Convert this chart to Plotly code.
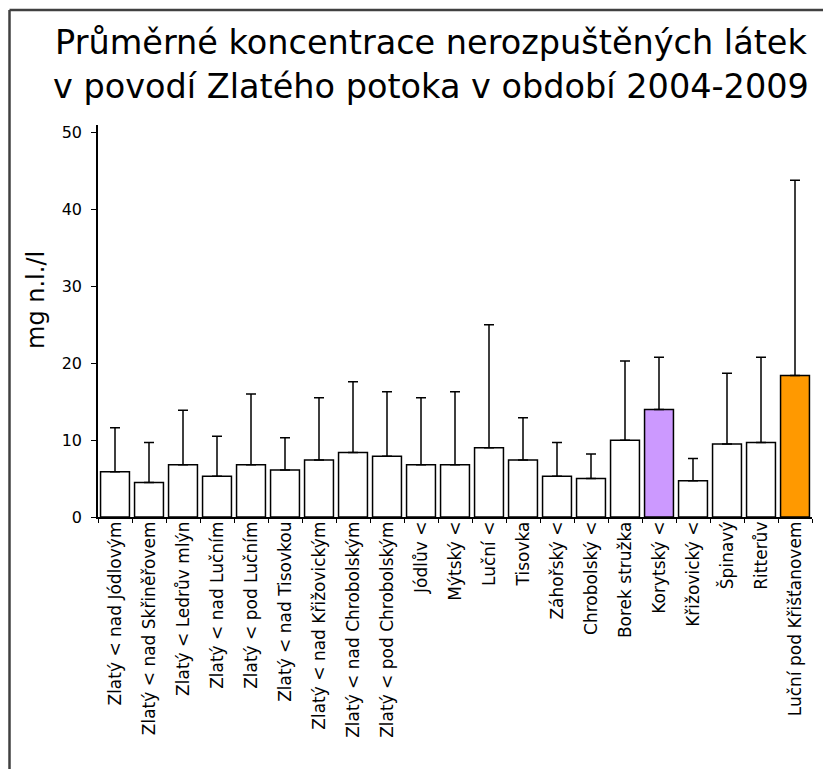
import plotly.graph_objects as go

categories = [
    "Zlatý < nad Jódlovým", "Zlatý < nad Skřiněřovem", "Zlatý < Ledrův mlýn",
    "Zlatý < nad Lučním", "Zlatý < pod Lučním", "Zlatý < nad Tisovkou",
    "Zlatý < nad Křižovickým", "Zlatý < nad Chrobolským", "Zlatý < pod Chrobolským",
    "Jódlův <", "Mýtský <", "Luční <", "Tisovka", "Záhořský <", "Chrobolský <",
    "Borek stružka", "Korytský <", "Křižovický <", "Špinavý", "Ritterův",
    "Luční pod Křišťanovem",
]
means = [5.9, 4.5, 6.8, 5.3, 6.8, 6.1, 7.4, 8.4, 7.9, 6.8, 6.8, 9.0, 7.4, 5.3, 5.0,
         10.0, 14.0, 4.7, 9.5, 9.7, 18.4]
upper = [11.6, 9.7, 13.9, 10.5, 16.0, 10.3, 15.5, 17.6, 16.3, 15.5, 16.3, 25.0, 12.9,
         9.7, 8.2, 20.3, 20.8, 7.6, 18.7, 20.8, 43.8]
bar_colors = ["white"] * 16 + ["#CC99FF", "white", "white", "white", "#FF9900"]
y_ticks = [0, 10, 20, 30, 40, 50]

err_plus = [u - m for u, m in zip(upper, means)]

FONT = "DejaVu Sans, Liberation Sans, Arial, sans-serif"
W, H = 823, 761
L, R, T, B = 90, 19, 117, 252

fig = go.Figure(go.Bar(
    x=categories, y=means,
    marker=dict(color=bar_colors, line=dict(color="black", width=1.5)),
    error_y=dict(type="data", array=err_plus, arrayminus=[0] * len(means),
                 symmetric=False, color="black", thickness=1.5, width=5),
))

pw = W - L - R
ph = H - T - B


def px_x(p):
    return (p - L) / pw


def px_y(p):
    return (H - B - p) / ph


fig.update_layout(
    width=W, height=H,
    margin=dict(l=L, r=R, t=T, b=B),
    paper_bgcolor="white", plot_bgcolor="white",
    bargap=0.15,
    showlegend=False,
    font=dict(family=FONT, color="black"),
    xaxis=dict(
        tickangle=-90, tickfont=dict(size=17, color="black", family=FONT),
        showline=True, linecolor="black", linewidth=1.5,
        ticks="outside", tickson="boundaries", ticklen=4, tickcolor="black",
        ticklabelstandoff=-4,
        showgrid=False, zeroline=False,
    ),
    yaxis=dict(
        range=[0, 51], tickvals=y_ticks,
        tickfont=dict(size=16, color="black", family=FONT),
        showline=True, linecolor="black", linewidth=1.5,
        ticks="outside", ticklen=5, tickcolor="black", ticklabelstandoff=6,
        showgrid=False, zeroline=False,
    ),
    annotations=[
        dict(text="Průměrné koncentrace nerozpuštěných látek<br>v povodí Zlatého potoka v období 2004-2009",
             xref="paper", yref="paper", x=px_x(423), y=px_y(57),
             xanchor="center", yanchor="middle", showarrow=False,
             font=dict(size=33.5, color="black", family=FONT)),
        dict(text="mg n.l./l", textangle=-90,
             xref="paper", yref="paper", x=px_x(28), y=px_y(292),
             xanchor="center", yanchor="middle", showarrow=False,
             font=dict(size=24, color="black", family=FONT)),
    ],
    shapes=[
        dict(type="line", xref="paper", yref="paper",
             x0=px_x(1.5), x1=px_x(1.5), y0=px_y(2), y1=px_y(H),
             line=dict(color="#404040", width=2.5)),
        dict(type="line", xref="paper", yref="paper",
             x0=px_x(1.5), x1=px_x(W), y0=px_y(2), y1=px_y(2),
             line=dict(color="#404040", width=2.5)),
    ],
)

fig.write_html("out.html")
